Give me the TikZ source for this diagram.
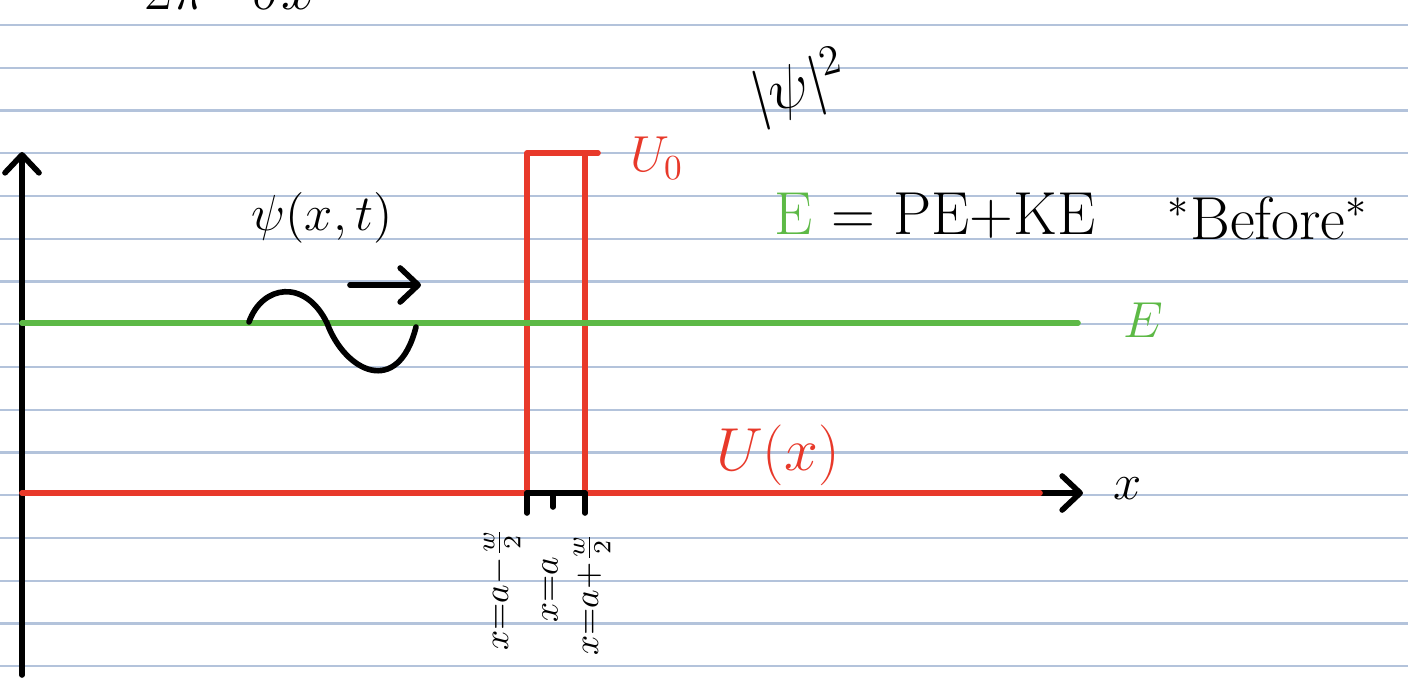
\documentclass[tikz,border=0pt]{standalone}
\usepackage{amsmath}
\usepackage{amssymb}
\usetikzlibrary{arrows.meta,positioning}
\definecolor{inkred}{HTML}{E8392A}
\definecolor{inkgreen}{HTML}{5DB946}
\definecolor{ruleblue}{HTML}{B3C3DB}

\begin{document}
\begin{tikzpicture}[
  x=0.01cm, y=-0.01cm,
  ink/.style={line width=1.6pt, line cap=round, line join=round},
  rule/.style={draw=ruleblue, line width=0.6pt},
  lbl/.style={inner sep=1pt, font=\Large},
  edge lbl/.style={inner sep=0pt, font=\normalsize, rotate=90, anchor=east},
  >={Straight Barb[length=1.8mm,width=3.4mm,round]}
]
\useasboundingbox (0,0) rectangle (1408,678);
\fill[white] (0,0) rectangle (1408,678);
% ruled paper
\foreach \k in {0,...,15}
  \draw[rule] (0,25+42.75*\k) -- (1408,25+42.75*\k);

% cut-off note at the top
\node[lbl, font=\LARGE] (note) at (230,-12) {$2\pi\cdot\delta x$};

% axes
\coordinate (O) at (22,493);
\coordinate (ybot) at (22,675);
\coordinate (ytop) at (22,152);
\coordinate (redend) at (1040,493);
\coordinate (xend) at (1083,493);
\draw[ink, ->] (ybot) -- (ytop);
\draw[ink, ->] (redend) -- (xend);
\node[lbl] (xlab) at (1128,489) {$x$};

% potential barrier
\coordinate (bl) at (527,493);
\coordinate (bm) at (553,493);
\coordinate (br) at (585,493);
\coordinate (tl) at (527,153);
\coordinate (tr) at (585,153);
\coordinate (u0tick) at (598,153);
\draw[ink, inkred] (O) -- (bl) -- (tl) -- (u0tick);
\draw[ink, inkred] (tr) -- (br) -- (redend);
\node[lbl, inkred] (u0) at (657,158) {$U_0$};
\node[lbl, inkred, font=\LARGE] (ux) at (778,455) {$U(x)$};

% barrier width
\draw[ink] (bl) -- (br);
\draw[ink] (bl) -- ++(0,20);
\draw[ink] (bm) -- ++(0,14);
\draw[ink] (br) -- ++(0,20);
\node[edge lbl] (xleft) at (502,527) {$x{=}a{-}\frac{w}{2}$};
\node[edge lbl] (xmid) at (550,556) {$x{=}a$};
\node[edge lbl] (xright) at (592,532) {$x{=}a{+}\frac{w}{2}$};

% energy level
\coordinate (e0) at (22,323);
\coordinate (e1) at (1078,323);
\draw[ink, inkgreen] (e0) -- (e1);
\node[lbl, inkgreen] (elab) at (1143,320) {$E$};

% incoming wave
\node[lbl] (psi) at (322,218) {$\psi(x,t)$};
\draw[ink] (249,322) .. controls (262,285) and (305,278) .. (327,323)
  .. controls (345,372) and (398,398) .. (416,327);
\coordinate (ka) at (350,285);
\coordinate (kb) at (421,285);
\draw[ink, ->] (ka) -- (kb);

% notes
\node[lbl, font=\LARGE, rotate=15] (prob) at (800,88) {$|\psi|^2$};
\node[lbl, font=\LARGE] (etot) at (935,216) {\textcolor{inkgreen}{E} = PE+KE};
\node[lbl, font=\LARGE] (before) at (1268,218) {$^{*}$Before$^{*}$};
\end{tikzpicture}
\end{document}
